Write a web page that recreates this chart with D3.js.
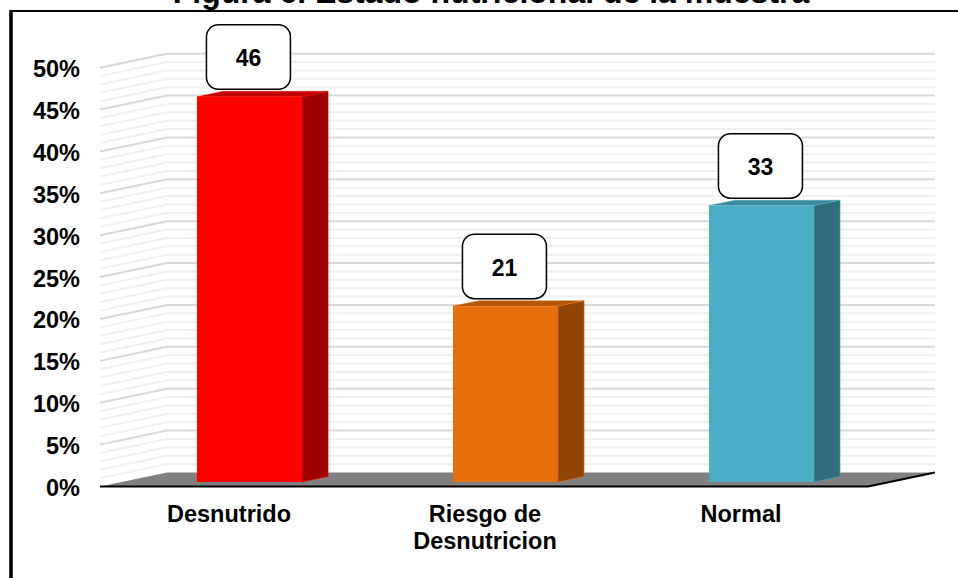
<!DOCTYPE html>
<html lang="es">
<head>
    <meta charset="UTF-8">
    <title>Estado nutricional</title>
    <script src="https://cdn.jsdelivr.net/npm/d3@7"></script>
    <style>
        html, body { margin: 0; padding: 0; background: #fff; overflow: hidden; }
        svg { display: block; }
        text { font-family: "Liberation Sans", Arial, sans-serif; font-weight: bold; fill: #000; }
    </style>
</head>
<body>
<div id="canvas"></div>
<script>
    const titleText = "Figura 6. Estado nutricional de la muestra";
    const categories = ["Desnutrido", "Riesgo de\nDesnutricion", "Normal"];
    const values = [46, 21, 33];
    const tickLabels = [0, 5, 10, 15, 20, 25, 30, 35, 40, 45, 50];
    const frontColors = ["#ff0000", "#e56f0d", "#4bacc6"];
    const sideColors = ["#a00000", "#8f4506", "#316d7d"];
    const topColors = ["#c00000", "#b35708", "#3b8aa0"];

    const width = 958;
    const height = 578;

    const svg = d3.select("#canvas")
        .append("svg")
        .attr("width", width)
        .attr("height", height);

    // front plane of the chart
    const y = d3.scaleLinear().domain([0, 50]).range([486.5, 67.7]);
    const x = d3.scaleBand().domain(categories).range([100, 868]);

    // offset of the back wall from the front plane
    const depthX = 67;
    const depthY = -14;
    const px = (v, d) => v + depthX * d;
    const py = (v, d) => y(v) + depthY * d;
    const pts = a => a.map(p => p.join(",")).join(" ");

    // frame
    svg.append("line").attr("x1", 11).attr("x2", width).attr("y1", 11).attr("y2", 11)
        .attr("stroke", "#000").attr("stroke-width", 2);
    svg.append("line").attr("x1", 11).attr("x2", 11).attr("y1", 10).attr("y2", height)
        .attr("stroke", "#000").attr("stroke-width", 3.5);

    svg.append("text")
        .attr("x", 491)
        .attr("y", 3)
        .attr("text-anchor", "middle")
        .style("font-size", "32px")
        .text(titleText);

    // gridlines on the side wall and back wall
    const gridPoints = v => pts([[100, y(v)], [px(100, 1), py(v, 1)], [935, py(v, 1)]]);
    const minor = y.ticks(50).filter(v => v > 0 && v % 5 !== 0);
    const major = tickLabels.filter(v => v > 0);

    svg.append("g").selectAll("polyline")
        .data(minor)
        .enter().append("polyline")
        .attr("points", gridPoints)
        .attr("fill", "none")
        .attr("stroke", "#f0f0f0")
        .attr("stroke-width", 2);

    svg.append("g").selectAll("polyline")
        .data(major)
        .enter().append("polyline")
        .attr("points", gridPoints)
        .attr("fill", "none")
        .attr("stroke", "#d9d9d9")
        .attr("stroke-width", 2);

    // floor
    svg.append("polygon")
        .attr("points", pts([[100, y(0)], [px(100, 1), py(0, 1)], [935, py(0, 1)], [868, y(0)]]))
        .attr("fill", "#808080");
    svg.append("polyline")
        .attr("points", pts([[100, y(0)], [868, y(0)], [935, py(0, 1)]]))
        .attr("fill", "none")
        .attr("stroke", "#000")
        .attr("stroke-width", 2.2);

    // bars
    const barWidth = 105;
    const d0 = 0.32;
    const d1 = 0.71;
    const bars = svg.append("g").selectAll("g")
        .data(categories)
        .enter().append("g");

    const left = d => px(x(d) + x.bandwidth() / 2 - barWidth / 2, d0);
    const right = d => left(d) + barWidth;
    const shift = depthX * (d1 - d0);
    const val = i => values[i];

    bars.append("polygon")
        .attr("points", (d, i) => pts([
            [right(d), py(0, d0)], [right(d) + shift, py(0, d1)],
            [right(d) + shift, py(val(i), d1)], [right(d), py(val(i), d0)]
        ]))
        .attr("fill", (d, i) => sideColors[i])
        .attr("stroke", (d, i) => frontColors[i])
        .attr("stroke-width", 0.6);

    bars.append("polygon")
        .attr("points", (d, i) => pts([
            [left(d), py(val(i), d0)], [left(d) + shift, py(val(i), d1)],
            [right(d) + shift, py(val(i), d1)], [right(d), py(val(i), d0)]
        ]))
        .attr("fill", (d, i) => topColors[i])
        .attr("stroke", (d, i) => frontColors[i])
        .attr("stroke-width", 0.4);

    bars.append("rect")
        .attr("x", left)
        .attr("y", (d, i) => py(val(i), d0))
        .attr("width", barWidth)
        .attr("height", (d, i) => y(0) - y(val(i)))
        .attr("fill", (d, i) => frontColors[i]);

    // value labels
    const boxW = 84;
    const boxH = 64.5;
    bars.append("rect")
        .attr("x", d => left(d) + barWidth / 2 - boxW / 2 - 1)
        .attr("y", (d, i) => py(val(i), d1) - boxH - 2)
        .attr("width", boxW)
        .attr("height", boxH)
        .attr("rx", 12)
        .attr("fill", "#fff")
        .attr("stroke", "#000")
        .attr("stroke-width", 1.5);

    bars.append("text")
        .attr("x", d => left(d) + barWidth / 2 - 1)
        .attr("y", (d, i) => py(val(i), d1) - 2 - boxH / 2)
        .attr("dy", "0.4em")
        .attr("text-anchor", "middle")
        .style("font-size", "23px")
        .text((d, i) => val(i));

    // y axis labels
    const yAxis = d3.axisLeft(y)
        .tickValues(tickLabels)
        .tickSize(0)
        .tickPadding(20)
        .tickFormat(d => d + "%");
    const yg = svg.append("g")
        .attr("transform", "translate(100,0)")
        .attr("font-family", null)
        .call(yAxis);
    yg.attr("font-family", null).attr("font-size", null);
    yg.select(".domain").remove();
    yg.selectAll("text")
        .attr("dy", "0.38em")
        .style("font-size", "23.5px");

    // category labels
    svg.append("g").selectAll("text")
        .data(categories)
        .enter().append("text")
        .attr("text-anchor", "middle")
        .style("font-size", "23.5px")
        .each(function (d) {
            d3.select(this).selectAll("tspan")
                .data(d.split("\n"))
                .enter().append("tspan")
                .attr("x", x(d) + x.bandwidth() / 2 + 1)
                .attr("y", (t, i) => 522 + i * 27.2)
                .text(t => t);
        });
</script>
</body>
</html>
